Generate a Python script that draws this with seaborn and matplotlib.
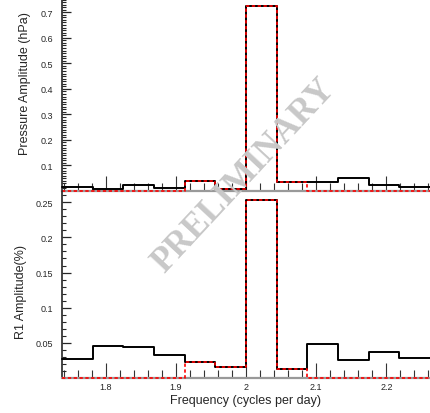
import numpy as np
import pandas as pd
import matplotlib
matplotlib.use("Agg")
import matplotlib.pyplot as plt
from matplotlib.ticker import MultipleLocator, FormatStrFormatter
import seaborn as sns

# binning (cycles per day)
bin_start = 1.7378
bin_width = 0.0437
n_bins = 12

# pressure amplitude (hPa): all data (black) and selected band (red dashed)
pressure_all = [0.015, 0.009, 0.025, 0.010, 0.038, 0.009,
                0.725, 0.035, 0.035, 0.049, 0.022, 0.016]
pressure_sel = [0, 0, 0, 0, 0.038, 0.009, 0.725, 0.035, 0, 0, 0, 0]

# R1 amplitude (%)
r1_all = [0.0273, 0.0453, 0.0434, 0.0330, 0.0230, 0.0155,
          0.2537, 0.0130, 0.0486, 0.0263, 0.0368, 0.0287]
r1_sel = [0, 0, 0, 0, 0.0230, 0.0155, 0.2537, 0.0130, 0, 0, 0, 0]

edges = bin_start + bin_width * np.arange(n_bins + 1)

sns.set_style("ticks")
plt.rcParams['font.family'] = ['Liberation Sans', 'DejaVu Sans']

fig = plt.figure(figsize=(4.3, 4.14), dpi=100)
ax1 = fig.add_axes([62 / 430, 1 - 192 / 414, 1 - 62 / 430, 192 / 414])
ax2 = fig.add_axes([62 / 430, 1 - 379 / 414, 1 - 62 / 430, 187 / 414])


def steps(vals):
    return pd.DataFrame({'freq': edges, 'amp': list(vals) + [vals[-1]]})


def draw(ax, all_vals, sel_vals):
    sns.lineplot(data=steps(all_vals), x='freq', y='amp', drawstyle='steps-post',
                 color='black', linewidth=1.4, ax=ax, zorder=3, clip_on=False)
    sns.lineplot(data=steps(sel_vals), x='freq', y='amp', drawstyle='steps-post',
                 color='red', linewidth=1.2, linestyle=(0, (2, 1.5)), ax=ax,
                 zorder=4, clip_on=False)
    ax.set_xlim(edges[0], edges[-1])
    ax.xaxis.set_major_locator(MultipleLocator(0.1))
    ax.xaxis.set_minor_locator(MultipleLocator(0.02))
    ax.tick_params(axis='x', which='major', direction='in', length=11, width=0.8,
                   color='#333333', labelsize=6.5, pad=3)
    ax.tick_params(axis='x', which='minor', direction='in', length=5.5, width=0.8, color='#333333')
    ax.tick_params(axis='y', which='major', direction='in', length=6.5, width=0.9,
                   labelsize=6.5, pad=6.5)
    ax.tick_params(axis='y', which='minor', direction='in', length=3, width=0.8)
    for s in ['top', 'right']:
        ax.spines[s].set_visible(False)
    ax.spines['left'].set_linewidth(1.2)
    ax.spines['bottom'].set_color('#999999')
    ax.spines['bottom'].set_linewidth(1.6)
    ax.set_facecolor('none')


draw(ax1, pressure_all, pressure_sel)
ax1.set_ylim(0, 0.752)
ax1.set_yticks([0.1, 0.2, 0.3, 0.4, 0.5, 0.6, 0.7])
ax1.yaxis.set_minor_locator(MultipleLocator(0.01))
ax1.yaxis.set_major_formatter(FormatStrFormatter('%g'))
ax1.set_xticklabels([])
ax1.set_xlabel('')
ax1.set_ylabel('Pressure Amplitude (hPa)', fontsize=9)
ax1.yaxis.set_label_coords(-0.085, 0.5625)

draw(ax2, r1_all, r1_sel)
ax2.set_ylim(0, 0.266)
ax2.set_yticks([0.05, 0.1, 0.15, 0.2, 0.25])
ax2.yaxis.set_minor_locator(MultipleLocator(0.01))
ax2.yaxis.set_major_formatter(FormatStrFormatter('%g'))
ax2.xaxis.set_major_formatter(FormatStrFormatter('%g'))
ax2.set_xlabel('Frequency (cycles per day)', fontsize=9, labelpad=2)
ax2.set_ylabel('R1 Amplitude(%)', fontsize=9)
ax2.yaxis.set_label_coords(-0.095, 0.465)

fig.text(0.567, 0.574, 'PRELIMINARY', rotation=47, ha='center', va='center',
         fontsize=25, fontweight='bold', color='#c8c8c8',
         family=['Liberation Serif', 'DejaVu Serif'], zorder=0)

fig.savefig('out.png', dpi=100)
